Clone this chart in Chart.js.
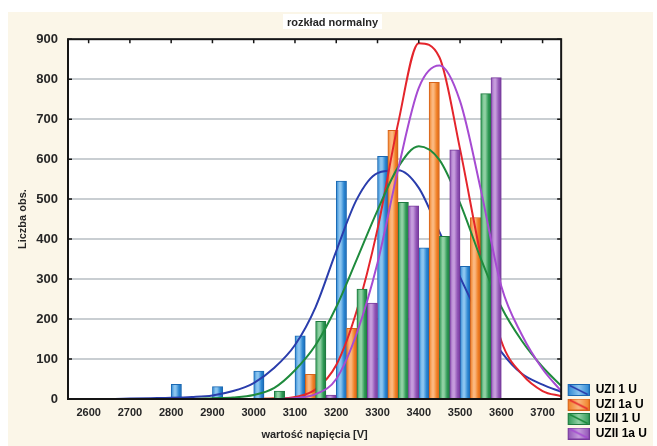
<!DOCTYPE html>
<html lang="pl">
<head>
<meta charset="utf-8">
<title>rozkład normalny</title>
<script src="https://cdn.jsdelivr.net/npm/chart.js@4.4.1/dist/chart.umd.min.js"></script>
<style>
  html, body { margin: 0; padding: 0; background: #ffffff; }
  #kontener { width: 657px; height: 446px; }
</style>
</head>
<body>
<div id="kontener"><canvas id="wykres" width="657" height="446"></canvas></div>
<script>
// ==========================================
// ROZKŁAD NORMALNY - histogram napięć
// ==========================================

// początki przedziałów histogramu [V]
const przedzialy = [2600, 2700, 2800, 2900, 3000, 3100, 3200, 3300, 3400, 3500];
const szerokoscPrzedzialu = 100;

const nazwySerii = ["UZI 1 U", "UZI 1a U", "UZII 1 U", "UZII 1a U"];

// liczebności w przedziałach
const obsUZI1   = [1, 2, 37, 31, 70, 158, 545, 607, 378, 332];
const obsUZI1a  = [0, 0, 0, 1, 3, 62, 177, 672, 792, 454];
const obsUZII1  = [0, 0, 0, 0, 20, 194, 275, 492, 407, 764];
const obsUZII1a = [0, 0, 0, 0, 2, 10, 240, 483, 623, 804];

// dopasowane krzywe normalne
const krzyweX     = [2550, 2600, 2650, 2700, 2750, 2800, 2850, 2900, 2950, 3000, 3050, 3100, 3150, 3200, 3250, 3300, 3350, 3400, 3450, 3500, 3550, 3600, 3650, 3700, 3745];
const krzywaUZI1   = [0, 0, 0, 1, 2, 3, 5, 9, 20, 40, 78, 135, 230, 370, 500, 565, 572, 528, 418, 305, 200, 118, 63, 36, 18];
const krzywaUZI1a  = [0, 0, 0, 0, 0, 0, 0, 0, 0, 0, 1, 5, 24, 85, 222, 425, 690, 890, 855, 625, 360, 145, 62, 20, 7];
const krzywaUZII1  = [0, 0, 0, 0, 0, 0, 0, 2, 4, 10, 28, 72, 135, 230, 350, 472, 580, 632, 598, 490, 352, 230, 145, 80, 33];
const krzywaUZII1a = [0, 0, 0, 0, 0, 0, 0, 0, 0, 0, 0, 2, 12, 50, 165, 340, 575, 778, 834, 745, 525, 282, 160, 75, 20];

// osie
const etykietyX = [2600, 2700, 2800, 2900, 3000, 3100, 3200, 3300, 3400, 3500, 3600, 3700];
const etykietyY = [0, 100, 200, 300, 400, 500, 600, 700, 800, 900];

// ==========================================
// KOLORY
// ==========================================

const kolorySlupkow = ["#2b86d2", "#f07f24", "#2e9955", "#9154b6"];
const jasneSlupkow  = ["#8ac4ef", "#fbb77e", "#8fd0a3", "#c59bdc"];
const ramkiSlupkow  = ["#1a68b2", "#d6631a", "#1f7a40", "#773a9c"];
const koloryKrzywych = ["#2a3dac", "#e4252c", "#1f8b3d", "#a64bd2"];
const kolorTekstu = "#262626";
const czcionka = "'Liberation Sans', Arial, sans-serif";

Chart.defaults.font.family = czcionka;
Chart.defaults.color = kolorTekstu;

const liczebnosci = [obsUZI1, obsUZI1a, obsUZII1, obsUZII1a];
const krzywe = [krzywaUZI1, krzywaUZI1a, krzywaUZII1, krzywaUZII1a];
const polSlotu = szerokoscPrzedzialu / 8;

// słupek z połyskiem (gradient poziomy)
function wypelnienieSlupka(k) {
    return (context) => {
        const chart = context.chart;
        const xs = chart.scales.x;
        if (context.type !== "data" || !xs || !context.raw) return kolorySlupkow[k];
        const lewy = xs.getPixelForValue(context.raw.x - polSlotu);
        const prawy = xs.getPixelForValue(context.raw.x + polSlotu);
        if (!isFinite(lewy) || !isFinite(prawy)) return kolorySlupkow[k];
        const g = chart.ctx.createLinearGradient(lewy, 0, prawy, 0);
        g.addColorStop(0, kolorySlupkow[k]);
        g.addColorStop(0.3, jasneSlupkow[k]);
        g.addColorStop(0.45, jasneSlupkow[k]);
        g.addColorStop(0.75, kolorySlupkow[k]);
        g.addColorStop(1, ramkiSlupkow[k]);
        return g;
    };
}

// próbka do legendy: słupek przecięty linią krzywej
function probkaLegendy(k) {
    const c = document.createElement("canvas");
    c.width = 26;
    c.height = 12;
    const g = c.getContext("2d");
    const gr = g.createLinearGradient(4, 0, 26, 0);
    gr.addColorStop(0, kolorySlupkow[k]);
    gr.addColorStop(0.5, jasneSlupkow[k]);
    gr.addColorStop(1, kolorySlupkow[k]);
    g.fillStyle = gr;
    g.fillRect(4, 0, 22, 12);
    g.strokeStyle = ramkiSlupkow[k];
    g.lineWidth = 1;
    g.strokeRect(4.5, 0.5, 21, 11);
    g.strokeStyle = koloryKrzywych[k];
    g.lineWidth = 1.5;
    g.beginPath();
    g.moveTo(6, 1.5);
    g.lineTo(24, 10.5);
    g.stroke();
    return c;
}

// ==========================================
// ZBIORY DANYCH
// ==========================================

const zbiory = [];

for (let k = 0; k < 4; k++) {

    zbiory.push({
        type: "bar",
        label: nazwySerii[k],
        data: przedzialy.map((p, i) => ({
            x: p + polSlotu + k * 2 * polSlotu,
            y: liczebnosci[k][i]
        })),
        backgroundColor: wypelnienieSlupka(k),
        borderColor: ramkiSlupkow[k],
        borderWidth: 1,
        borderSkipped: "bottom",
        grouped: false,
        barPercentage: 1,
        categoryPercentage: 1,
        order: 8 - 2 * k
    });

    zbiory.push({
        type: "line",
        label: nazwySerii[k] + " (normalny)",
        data: krzyweX.map((x, i) => ({ x: x, y: krzywe[k][i] })),
        borderColor: koloryKrzywych[k],
        borderWidth: 2,
        pointRadius: 0,
        fill: false,
        cubicInterpolationMode: "monotone",
        order: 7 - 2 * k
    });

}

// ==========================================
// TŁO I RAMKA
// ==========================================

const tlo = {
    id: "tlo",
    beforeDraw(chart) {
        const { ctx, chartArea, width, height } = chart;
        ctx.save();
        ctx.fillStyle = "#ffffff";
        ctx.fillRect(0, 0, width, height);
        ctx.fillStyle = "#fbf6e8";
        ctx.fillRect(8, 12, width - 12, height - 12);
        ctx.fillStyle = "#ffffff";
        ctx.fillRect(chartArea.left, chartArea.top, chartArea.right - chartArea.left, chartArea.bottom - chartArea.top);

        // biała etykieta pod tytułem
        const t = chart.titleBlock;
        if (t) {
            ctx.font = "bold 11px " + czcionka;
            const w = ctx.measureText(t.options.text).width + 8;
            const cx = (t.left + t.right) / 2;
            ctx.fillRect(cx - w / 2, t.top + 2, w, 15);
        }
        ctx.restore();
    }
};

const ramka = {
    id: "ramka",
    afterDatasetsDraw(chart) {
        const { ctx, chartArea: a, scales } = chart;
        ctx.save();
        ctx.strokeStyle = "#151515";
        ctx.lineWidth = 2;
        ctx.strokeRect(a.left, a.top, a.right - a.left, a.bottom - a.top);

        // znaczniki na górnej i prawej krawędzi
        ctx.lineWidth = 1.5;
        ctx.beginPath();
        scales.x.ticks.forEach((t) => {
            const x = scales.x.getPixelForValue(t.value);
            ctx.moveTo(x, a.top);
            ctx.lineTo(x, a.top + 4);
        });
        scales.y.ticks.forEach((t) => {
            const y = scales.y.getPixelForValue(t.value);
            ctx.moveTo(a.right, y);
            ctx.lineTo(a.right - 4, y);
            ctx.moveTo(a.left, y);
            ctx.lineTo(a.left + 4, y);
        });
        ctx.stroke();
        ctx.restore();
    }
};

// ==========================================
// WYKRES
// ==========================================

new Chart(document.getElementById("wykres"), {

    type: "bar",

    data: { datasets: zbiory },

    options: {

        responsive: false,
        animation: false,

        layout: {
            padding: { left: 8, top: 12, right: 0, bottom: 4 }
        },

        plugins: {

            title: {
                display: true,
                text: "rozkład normalny",
                color: kolorTekstu,
                font: { size: 11, weight: "bold" },
                padding: { top: 4, bottom: 10 }
            },

            legend: {
                position: "right",
                align: "end",
                labels: {
                    usePointStyle: true,
                    pointStyleWidth: 26,
                    padding: 2.5,
                    color: "#1b1b28",
                    font: { size: 12, weight: "bold" },
                    generateLabels: () => nazwySerii.map((n, k) => ({
                        text: n,
                        pointStyle: probkaLegendy(k),
                        fillStyle: kolorySlupkow[k],
                        strokeStyle: ramkiSlupkow[k],
                        lineWidth: 0,
                        hidden: false,
                        datasetIndex: 2 * k
                    }))
                }
            },

            tooltip: { enabled: false }

        },

        scales: {

            x: {
                type: "linear",
                min: 2550,
                max: 3745,
                offset: false,
                afterBuildTicks: (s) => { s.ticks = etykietyX.map((v) => ({ value: v })); },
                afterFit: (s) => { s.height = 43; },
                ticks: {
                    padding: 7,
                    color: kolorTekstu,
                    font: { size: 11, weight: "bold" },
                    maxRotation: 0,
                    callback: (v) => String(v)
                },
                grid: { display: false, drawTicks: false, offset: false },
                border: { display: false },
                title: {
                    display: true,
                    text: "wartość napięcia [V]",
                    color: kolorTekstu,
                    font: { size: 11, weight: "bold" },
                    padding: { top: 0, bottom: 0 }
                }
            },

            y: {
                min: 0,
                max: 900,
                afterBuildTicks: (s) => { s.ticks = etykietyY.map((v) => ({ value: v })); },
                afterFit: (s) => { s.width = 60; },
                ticks: {
                    padding: 10,
                    color: kolorTekstu,
                    font: { size: 13, weight: "bold" }
                },
                grid: { color: "#c9ced2", lineWidth: 2, drawTicks: false },
                border: { display: false },
                title: {
                    display: true,
                    text: "Liczba obs.",
                    color: kolorTekstu,
                    font: { size: 11, weight: "bold" },
                    padding: { top: 8, bottom: 0 }
                }
            }

        }

    },

    plugins: [tlo, ramka]

});
</script>
</body>
</html>
